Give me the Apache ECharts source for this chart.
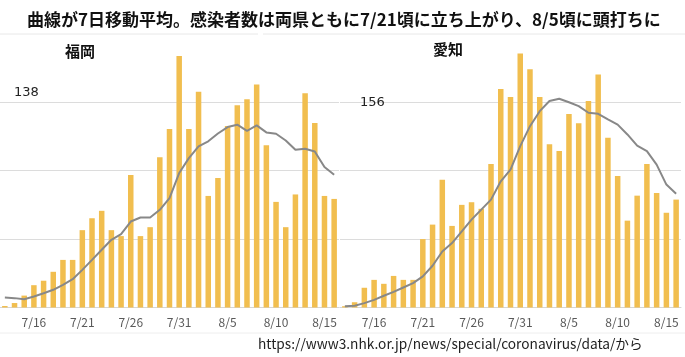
<!DOCTYPE html>
<html><head><meta charset="utf-8">
<script src="https://cdn.jsdelivr.net/npm/echarts@6/dist/echarts.min.js"></script>
<style>html,body{margin:0;padding:0;background:#fff}#c{width:685px;height:357px}</style>
</head><body><div id="c"></div>
<script>
const dates = ['7/13','7/14','7/15','7/16','7/17','7/18','7/19','7/20','7/21','7/22','7/23','7/24','7/25','7/26','7/27','7/28','7/29','7/30','7/31','8/1','8/2','8/3','8/4','8/5','8/6','8/7','8/8','8/9','8/10','8/11','8/12','8/13','8/14','8/15','8/16'];
const fukuokaCases = [1,3,8,15,18,24,32,32,52,60,65,52,48,89,48,54,101,120,169,120,145,75,87,122,136,140,150,109,71,54,76,144,124,75,73];
const fukuokaAvg = [6.7,6.3,5.6,7.4,9.6,11.9,15.2,19,25.3,32,38.8,45.5,49.3,57.8,60.5,60.5,65.7,73.5,90.4,100.4,108.3,111.7,117,121.3,122.9,118.8,122.4,117.7,116.8,112.3,106,106.7,104.9,94.4,89.2];
const aichiCases = [1,4,15,21,18,24,21,21,52,63,97,62,78,80,75,109,166,160,193,181,160,124,119,147,140,157,177,129,100,66,85,109,87,72,82];
const aichiAvg = [1,1.3,3.3,5.8,8.9,11.9,15.2,18.5,23.6,31.7,42.6,49,57.9,66.8,74.4,82,95.9,104.8,122.6,137.8,149.2,156.9,158.6,156,153,148,147.2,142.9,139,131.5,123,118.8,108.6,93.4,86.5];
const fukuokaTick = 138;
const aichiTick = 156;
const titleText = '曲線が7日移動平均。感染者数は両県ともに7/21頃に立ち上がり、8/5頃に頭打ちに';
const panelNames = ['福岡','愛知'];
const sourceText = 'https://www3.nhk.or.jp/news/special/coronavirus/data/から';

const barColor = '#F1BE4F';
const lineColor = '#888888';
const jp = '"Noto Sans CJK JP", "Noto Sans", sans-serif';

function xAxis(gi){
  return {type:'category', gridIndex:gi, data:dates, boundaryGap:true,
    axisLine:{show:true, lineStyle:{color:'#d6d6d6', width:1}},
    axisTick:{show:false},
    axisLabel:{interval:(i)=> (i-3)%5===0 && i>=3, color:'#595959', fontSize:12, fontFamily:jp, margin:9}};
}
function yAxis(gi, tick, labelOpts){
  return {type:'value', gridIndex:gi, min:0, max:tick/3*4, interval:tick/3,
    axisLine:{show:false}, axisTick:{show:false},
    splitLine:{show:true, showMaxLine:false, lineStyle:{color:'#dcdcdc', width:1}},
    axisLabel:Object.assign({inside:true, color:'#222', fontSize:13, fontFamily:'"DejaVu Sans", sans-serif',
      formatter:(v)=> Math.abs(v-tick)<0.01 ? String(tick) : ''}, labelOpts)};
}

const chart = echarts.init(document.getElementById('c'));
chart.setOption({
  animation:false,
  backgroundColor:'#fff',
  title:[
    {text:titleText, left:22, top:6, textStyle:{fontSize:17, fontWeight:'bold', color:'#111', fontFamily:jp}},
    {text:panelNames[0], left:60, top:39, textStyle:{fontSize:15, fontWeight:'bold', color:'#111', fontFamily:jp}},
    {text:panelNames[1], left:428, top:37, textStyle:{fontSize:15, fontWeight:'bold', color:'#111', fontFamily:jp}}
  ],
  graphic:[
    {type:'line', shape:{x1:0,y1:34,x2:258,y2:34}, style:{stroke:'#e8e8e8', lineWidth:1}, silent:true},
    {type:'line', shape:{x1:263,y1:34,x2:685,y2:34}, style:{stroke:'#e8e8e8', lineWidth:1}, silent:true},
    {type:'line', shape:{x1:0,y1:333,x2:685,y2:333}, style:{stroke:'#eeeeee', lineWidth:1}, silent:true},
    {type:'text', left:258, top:337, style:{text:sourceText, fontSize:13.7, fill:'#222', fontFamily:jp}}
  ],
  grid:[
    {left:-1.5, width:340.5, top:33.8, bottom:49.5},
    {left:340, width:341, top:33.8, bottom:49.5}
  ],
  xAxis:[xAxis(0), xAxis(1)],
  yAxis:[
    yAxis(0, fukuokaTick, {margin:14, verticalAlign:'bottom', padding:[0,0,3,0]}),
    yAxis(1, aichiTick, {margin:20, verticalAlign:'middle'})
  ],
  series:[
    {type:'bar', xAxisIndex:0, yAxisIndex:0, data:fukuokaCases, barWidth:5.5, itemStyle:{color:barColor}},
    {type:'line', xAxisIndex:0, yAxisIndex:0, data:fukuokaAvg, symbol:'none', lineStyle:{color:lineColor, width:2}, z:3},
    {type:'bar', xAxisIndex:1, yAxisIndex:1, data:aichiCases, barWidth:5.5, itemStyle:{color:barColor}},
    {type:'line', xAxisIndex:1, yAxisIndex:1, data:aichiAvg, symbol:'none', lineStyle:{color:lineColor, width:2}, z:3}
  ]
});
</script></body></html>
